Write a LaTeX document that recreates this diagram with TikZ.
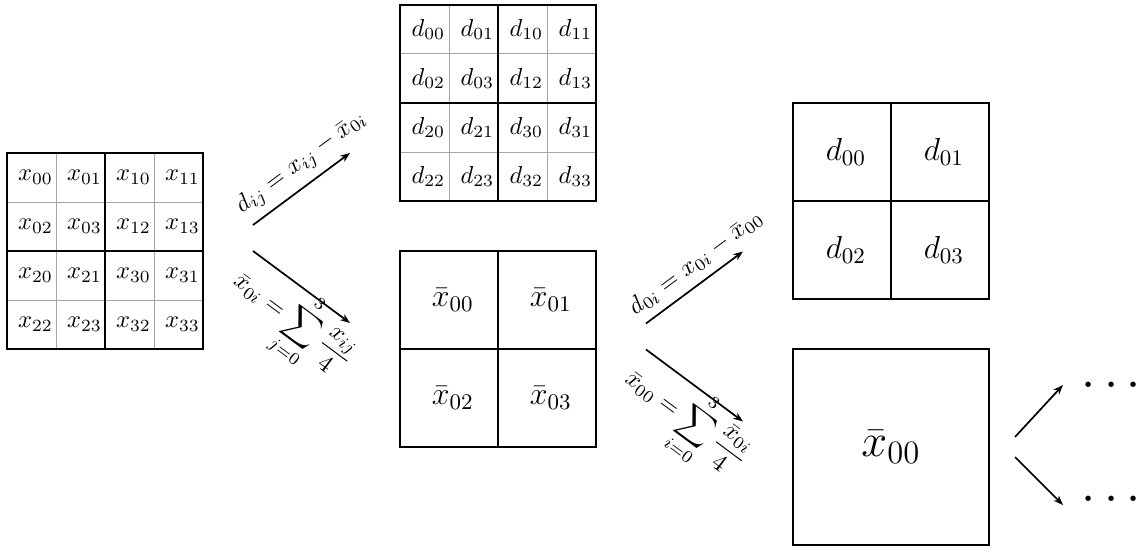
\documentclass[tikz,border=0pt]{standalone}
\usepackage{fix-cm}
\usetikzlibrary{arrows.meta}
\newcommand\fourgrid[2]{%
  \foreach \k in {1,3}{%
    \draw[minorln] ({#1+49*\k},#2) -- ++(0,196);
    \draw[minorln] (#1,{#2+49*\k}) -- ++(196,0);}
  \draw[majorln] ({#1+98},#2) -- ++(0,196) (#1,{#2+98}) -- ++(196,0);
  \draw[majorln] (#1,#2) rectangle ++(196,196);}
\newcommand\twogrid[2]{%
  \draw[boxln] ({#1+98},#2) -- ++(0,196) (#1,{#2+98}) -- ++(196,0);
  \draw[boxln] (#1,#2) rectangle ++(196,196);}
\begin{document}
\begin{tikzpicture}[x=0.40816pt, y=-0.40816pt,
  minorln/.style={draw=black!35, line width=0.4pt},
  majorln/.style={draw=black, line width=0.6pt},
  boxln/.style={draw=black, line width=0.75pt},
  cell/.style={inner sep=0pt, xshift=1.6pt},
  midcell/.style={cell, font=\fontsize{13}{15}\selectfont},
  bigcell/.style={inner sep=0pt, font=\fontsize{19}{22}\selectfont},
  arr/.style={line width=0.7pt, -{Stealth[length=4pt,width=3pt]}},
  lbl/.style={sloped, font=\normalsize},
  dotsn/.style={inner sep=0pt, font=\huge}]
\useasboundingbox (0,0) rectangle (1137,548);

% 4x4 grids
\fourgrid{7}{153}
\fourgrid{400}{5}
\foreach \lab/\c/\r in {00/0/0,01/1/0,10/2/0,11/3/0,02/0/1,03/1/1,12/2/1,13/3/1,20/0/2,21/1/2,30/2/2,31/3/2,22/0/3,23/1/3,32/2/3,33/3/3}{%
  \node[cell] (a\lab) at ({7+24.5+49*\c},{153+24.5+49*\r}) {$x_{\lab}$};
  \node[cell] (d\lab) at ({400+24.5+49*\c},{5+24.5+49*\r}) {$d_{\lab}$};
}

% 2x2 grids
\twogrid{400}{251}
\twogrid{793}{103}
\foreach \lab/\c/\r in {00/0/0,01/1/0,02/0/1,03/1/1}{%
  \node[midcell] (xb\lab) at ({400+49+98*\c},{251+49+98*\r}) {$\bar{x}_{\lab}$};
  \node[midcell] (dd\lab) at ({793+49+98*\c},{103+49+98*\r}) {$d_{\lab}$};
}

% single box
\draw[boxln] (793,349) rectangle ++(196,196);
\node[bigcell] (xbig) at (891,447) {$\bar{x}_{00}$};

% arrow end points
\coordinate (p1s) at (253,225); \coordinate (p1e) at (350,153);
\coordinate (q1s) at (253,251); \coordinate (q1e) at (350,323);
\coordinate (p2s) at (646,323.5); \coordinate (p2e) at (743,251.5);
\coordinate (q2s) at (646,349.5); \coordinate (q2e) at (743,421.5);
\coordinate (p3s) at (1015,437); \coordinate (p3e) at (1063,385);
\coordinate (q3s) at (1015,457); \coordinate (q3e) at (1063,505);

\draw[arr] (p1s) -- node[lbl, above, pos=0.63] (l1u) {$d_{ij} = x_{ij} - \bar{x}_{0i}$} (p1e);
\draw[arr] (q1s) -- node[lbl, below=-6pt, pos=0.61] (l1d) {$\displaystyle \bar{x}_{0i} = \sum_{j=0}^{3}\frac{x_{ij}}{4}$} (q1e);
\draw[arr] (p2s) -- node[lbl, above, pos=0.63] (l2u) {$d_{0i} = x_{0i} - \bar{x}_{00}$} (p2e);
\draw[arr] (q2s) -- node[lbl, below=-6pt, pos=0.61] (l2d) {$\displaystyle \bar{x}_{00} = \sum_{i=0}^{3}\frac{\bar{x}_{0i}}{4}$} (q2e);
\draw[arr] (p3s) -- (p3e);
\draw[arr] (q3s) -- (q3e);

\node[dotsn, anchor=base west] (dotu) at (1081,398) {$\cdots$};
\node[dotsn, anchor=base west] (dotl) at (1081,512) {$\cdots$};
\end{tikzpicture}
\end{document}
